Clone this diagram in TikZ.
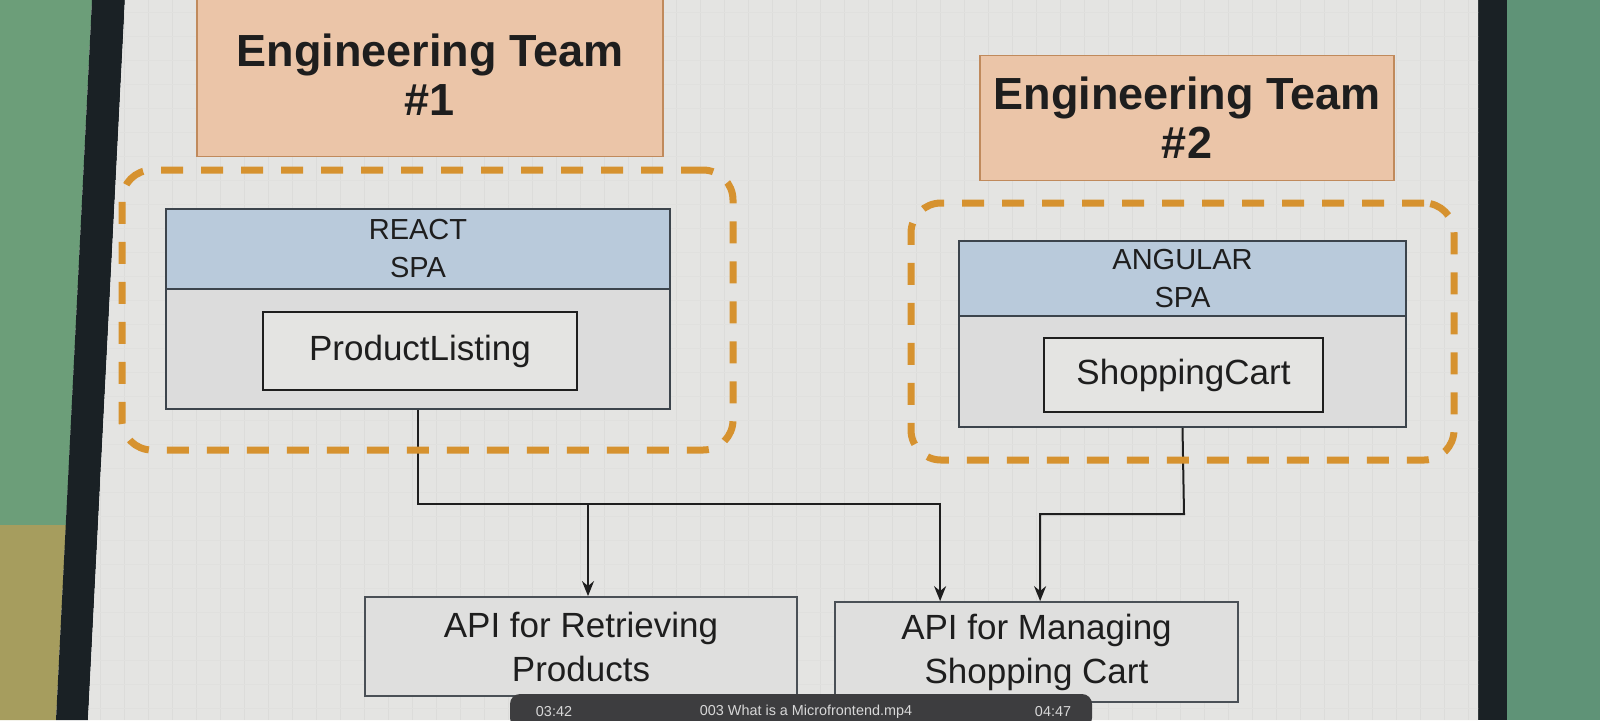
\documentclass[tikz,border=0pt]{standalone}
\usepackage{fontspec}
\setmainfont{Liberation Sans}
\usetikzlibrary{arrows.meta}
\definecolor{greenwall}{HTML}{6C9E79}
\definecolor{greenright}{HTML}{5F9377}
\definecolor{tabletop}{HTML}{A69D5E}
\definecolor{bezel}{HTML}{1A2125}
\definecolor{screenbg}{HTML}{E4E4E2}
\definecolor{gridgrey}{HTML}{DCDCDA}
\definecolor{teamfill}{HTML}{EBC5A8}
\definecolor{teamline}{HTML}{C08A5C}
\definecolor{spahead}{HTML}{B9CADB}
\definecolor{spabody}{HTML}{DCDCDC}
\definecolor{boxline}{HTML}{3C444C}
\definecolor{dashorange}{HTML}{D6922F}
\definecolor{ink}{HTML}{1E1E1E}
\definecolor{barfill}{HTML}{3D3D3F}
\definecolor{bartext}{HTML}{D8D8D8}
\tikzset{
  teambox/.style={draw=teamline,line width=0.9pt,fill=teamfill,inner sep=0pt,align=center,text=ink,
    font=\fontsize{22.5}{24.5}\selectfont\bfseries},
  spabox/.style={draw=boxline,line width=0.9pt,fill=spabody,inner sep=0pt},
  spahdr/.style={draw=boxline,line width=0.9pt,fill=spahead,inner sep=0pt,align=center,text=ink,
    font=\fontsize{14.5}{19}\selectfont},
  mfebox/.style={draw=ink,line width=0.9pt,fill=screenbg,inner sep=0pt,text=ink,font=\fontsize{17.5}{21}\selectfont},
  apibox/.style={draw=boxline!80!gray,line width=0.9pt,fill=spabody!60!screenbg,inner sep=0pt,align=center,text=ink,
    font=\fontsize{17.5}{22}\selectfont},
  groupbox/.style={draw=dashorange,line width=3.5pt,rounded corners=15pt,dash pattern=on 11pt off 9pt,inner sep=0pt},
  link/.style={draw=ink,line width=1pt,-{Stealth[length=7.5pt,width=6pt]}}
}
\begin{document}
\begin{tikzpicture}[x=0.5pt,y=-0.5pt]
  \useasboundingbox (0,0) rectangle (1600,720);
  \fill[greenwall] (0,0) -- (92,0) -- (66,525) -- (0,525) -- cycle;
  \fill[tabletop] (0,525) -- (66,525) -- (56,720) -- (0,720) -- cycle;
  \fill[greenright] (1507,0) rectangle (1600,720);
  \fill[bezel] (92,0) -- (125,0) -- (88,720) -- (56,720) -- cycle;
  \fill[bezel] (1478,0) rectangle (1507,720);
  \fill[screenbg] (125,0) -- (1478,0) -- (1478,720) -- (88,720) -- cycle;
  \begin{scope}
    \clip (125,0) -- (1478,0) -- (1478,720) -- (88,720) -- cycle;
    \foreach \x in {100,124,...,1480}
      \draw[gridgrey,line width=0.3pt] (\x,0) -- (\x,720);
    \foreach \y in {12,36,...,720}
      \draw[gridgrey!50!screenbg,line width=0.3pt] (80,\y) -- (1480,\y);
  \end{scope}

  \node[teambox,minimum width=233pt,minimum height=81.5pt] (team1) at (430,75) {Engineering Team\\\#1};
  \node[teambox,minimum width=207pt,minimum height=62.5pt] (team2) at (1187,118) {Engineering Team\\\#2};

  \node[spabox,minimum width=252pt,minimum height=100pt] (react) at (418,309) {};
  \node[spahdr,minimum width=252pt,minimum height=40pt] (reacthdr) at (418,249) {REACT\\SPA};
  \node[mfebox,minimum width=157pt,minimum height=39pt] (plist) at (420,351) {ProductListing};

  \node[spabox,minimum width=223.5pt,minimum height=93pt] (angular) at (1182.5,334) {};
  \node[spahdr,minimum width=223.5pt,minimum height=37.5pt] (angularhdr) at (1182.5,278.5) {ANGULAR\\SPA};
  \node[mfebox,minimum width=139.5pt,minimum height=37pt] (cart) at (1183.5,375) {ShoppingCart};

  \node[apibox,minimum width=216pt,minimum height=49.5pt] (apiprod) at (581,646.5) {API for Retrieving\\Products};
  \node[apibox,minimum width=201.5pt,minimum height=50pt] (apicart) at (1036.5,652) {API for Managing\\Shopping Cart};

  \coordinate (jl) at (418,504);
  \coordinate (jb) at (588,504);
  \coordinate (jr) at (1184,514);
  \path[link] (react.south) -- (jl) -| ([xshift=53pt]apicart.north west);
  \path[link] (jb) -- (jb |- apiprod.north);
  \path[link] (angular.south) -- (jr) -| ([xshift=103pt]apicart.north west);

  \node[groupbox,minimum width=305.5pt,minimum height=140pt] (group1) at (427.5,310) {};
  \node[groupbox,minimum width=271.5pt,minimum height=128.5pt] (group2) at (1182.5,331.5) {};

  \node[fill=barfill,rounded corners=5pt,minimum width=291pt,minimum height=17pt,inner sep=0pt] (bar) at (801,711) {};
  \node[text=bartext,font=\fontsize{7.2}{8}\selectfont,inner sep=0pt] (tnow) at (554,712) {03:42};
  \node[text=bartext,font=\fontsize{7.2}{8}\selectfont,inner sep=0pt] (title) at (806,712) {003 What is a Microfrontend.mp4};
  \node[text=bartext,font=\fontsize{7.2}{8}\selectfont,inner sep=0pt] (tend) at (1053,712) {04:47};
\end{tikzpicture}
\end{document}
